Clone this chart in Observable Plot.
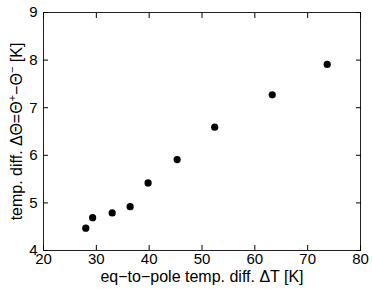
<!DOCTYPE html>
<html>
<head>
<meta charset="utf-8">
<script src="https://cdn.jsdelivr.net/npm/d3@7"></script>
<script src="https://cdn.jsdelivr.net/npm/@observablehq/plot@0.6"></script>
<style>
  body { margin: 0; background: #fff; }
  #chart svg { display: block; }
</style>
</head>
<body>
<div id="chart"></div>
<script>
const deltaT = [28.0, 29.3, 33.0, 36.4, 39.8, 45.3, 52.4, 63.3, 73.7];
const deltaTheta = [4.47, 4.69, 4.79, 4.92, 5.42, 5.91, 6.59, 7.27, 7.91];
const xTicks = [20, 30, 40, 50, 60, 70, 80];
const yTicks = [4, 5, 6, 7, 8, 9];
const xLabel = "eq−to−pole temp. diff. ΔT [K]";
const yLabelParts = [["temp. diff. ΔΘ=Θ", false], ["+", true], ["−Θ", false], ["−", true], [" [K]", false]];

const data = deltaT.map((x, i) => ({x, y: deltaTheta[i]}));
const font = "Liberation Sans, Arial, Helvetica, sans-serif";
const blank = () => "";

const chart = Plot.plot({
  width: 372,
  height: 289,
  marginLeft: 43,
  marginRight: 12,
  marginTop: 12,
  marginBottom: 39,
  style: {fontFamily: font, fontSize: "14px", color: "#000", background: "#fff"},
  x: {domain: [20, 80]},
  y: {domain: [4, 9]},
  marks: [
    Plot.frame({stroke: "#222", strokeWidth: 1}),
    Plot.axisX({anchor: "bottom", ticks: xTicks, tickSize: -5, tickPadding: 8, fontSize: 15, tickFormat: "d", label: null}),
    Plot.axisX({anchor: "bottom", ticks: [], label: xLabel, labelAnchor: "center", labelArrow: "none", labelOffset: 31, fontSize: 16}),
    Plot.axisX({anchor: "top", ticks: xTicks, tickSize: -5, tickFormat: blank, label: null}),
    Plot.axisY({anchor: "left", ticks: yTicks, tickSize: -5, tickPadding: 11, fontSize: 15, tickFormat: "d", label: null}),
    Plot.axisY({anchor: "left", ticks: [], label: yLabelParts.map(d => d[0]).join(""), labelAnchor: "center", labelArrow: "none", labelOffset: 33, fontSize: 16}),
    Plot.axisY({anchor: "right", ticks: yTicks, tickSize: -5, tickFormat: blank, label: null}),
    Plot.dot(data, {x: "x", y: "y", r: 3.6, fill: "#000", stroke: "none"})
  ]
});

// render superscripts in the y-axis label as real text tspans
d3.select(chart).selectAll("g[aria-label='y-axis label'] text").each(function() {
  const t = d3.select(this);
  t.text(null);
  yLabelParts.forEach(([s, sup], i) => {
    const sp = t.append("tspan").text(s);
    if (sup) sp.attr("font-size", "11px").attr("dy", "-0.55em");
    else if (i > 0) sp.attr("dy", "0.38em");
  });
});

document.getElementById("chart").appendChild(chart);
</script>
</body>
</html>
